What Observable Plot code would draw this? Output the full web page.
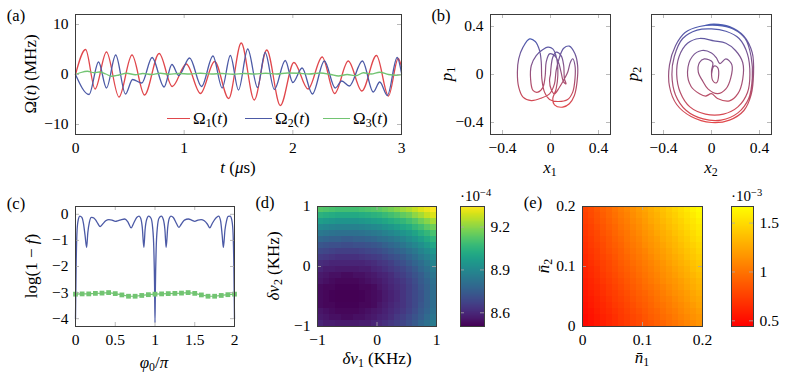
<!DOCTYPE html>
<html><head><meta charset="utf-8">
<script src="https://cdn.jsdelivr.net/npm/d3@7"></script>
<script src="https://cdn.jsdelivr.net/npm/@observablehq/plot@0.6"></script>
<style>
body{margin:0;background:#fff;}
#fig{position:relative;width:789px;height:375px;overflow:hidden;font-family:'Liberation Serif','Times New Roman',serif;color:#000;background:#fff;}
#fig svg{position:absolute;}
.lbl{position:absolute;white-space:nowrap;font-size:17px;line-height:1;transform:translate(-50%,-50%);}
.rot{transform:translate(-50%,-50%) rotate(-90deg);}
.lft{transform:translate(0,-50%);}
.sm{font-size:15px;}
.pl{font-size:16.5px;}
sub{font-size:0.7em;vertical-align:-0.3em;line-height:0;}
sup{font-size:0.7em;vertical-align:0.45em;line-height:0;}
.leg{position:absolute;height:0;border-top:1.5px solid;}
</style></head>
<body><div id="fig"></div>
<script>
// ---------- (a) control amplitudes ----------
const tRed   = [0,0.093,0.18,0.285,0.40,0.52,0.635,0.77,0.89,1.02,1.15,1.28,1.41,1.525,1.645,1.76,1.885,2.01,2.14,2.27,2.385,2.51,2.635,2.77,2.88,2.97,3.0];
const omegaRed = [0,5.0,-2.9,4.5,-4.5,3.9,-4.1,4.2,-2.4,2.1,-3.8,2.6,-4.8,6.3,-5.1,4.9,-6.2,2.4,-2.9,3.5,-3.8,2.7,-3.3,3.8,-4.3,3.2,1.5];
const tBlue  = [0,0.125,0.212,0.285,0.37,0.46,0.525,0.61,0.705,0.815,0.887,0.95,1.05,1.16,1.265,1.35,1.425,1.50,1.585,1.675,1.745,1.83,1.93,2.0,2.085,2.18,2.29,2.39,2.45,2.52,2.64,2.74,2.80,2.87,2.96,3.0];
const omegaBlue = [0,-4.0,2.5,-2.7,3.9,-3.9,-1.0,-1.7,3.4,-2.5,2.0,-0.2,3.3,-2.4,3.7,-2.7,3.8,-3.1,5.1,-2.6,4.4,-3.0,2.8,-1.6,1.3,-3.9,2.7,-2.7,-1.3,-2.3,2.7,-3.5,-1.5,-4.2,3.4,0.3];
const tGreen = [0,0.05,0.11,0.17,0.22,0.28,0.33,0.4,0.47,0.55,0.62,0.7,0.78,0.86,0.95,1.05,1.15,1.25,1.35,1.45,1.55,1.65,1.75,1.85,1.95,2.05,2.15,2.25,2.35,2.42,2.5,2.58,2.65,2.72,2.8,2.88,2.95,3.0];
const omegaGreen = [0,0.4,0.65,0.35,0.5,0.1,-0.35,-0.1,0.25,-0.05,0.2,0.0,0.25,0.05,0.2,0.1,0.25,0.1,0.2,0.05,0.2,0.1,0.25,0.1,0.3,0.25,0.1,0.3,0.0,-0.3,0.0,-0.25,0.35,0.1,0.45,0.0,-0.15,0.0];
const aXTicks = [0,1,2,3], aYTicks = [-10,0,10];

// ---------- (b) phase-space trajectories ----------
const x1Traj = [0.00,0.006,0.019,0.047,0.088,0.110,0.116,0.130,0.110,0.088,0.066,0.033,-0.008,-0.036,-0.044,-0.063,-0.105,-0.146,-0.166,-0.160,-0.119,-0.063,-0.022,0.019,0.052,0.061,0.047,0.019,0.033,0.102,0.157,0.199,0.221,0.226,0.204,0.157,0.110,0.075,0.047,0.033,-0.008,-0.077,-0.160,-0.229,-0.265,-0.276,-0.265,-0.229,-0.174,-0.127,-0.091,-0.077,-0.072,-0.050,-0.008,0.061,0.143,0.185,0.204,0.204,0.185,0.166,0.143,0.116,0.075,0.033,0.006,-0.008,0.00];
const p1Traj = [0.00,0.075,0.144,0.186,0.158,0.075,-0.036,-0.078,-0.064,0.019,0.103,0.158,0.172,0.103,-0.008,-0.106,-0.147,-0.133,-0.036,0.075,0.158,0.208,0.228,0.214,0.131,-0.008,-0.119,-0.203,-0.253,-0.272,-0.244,-0.175,-0.064,0.075,0.172,0.236,0.219,0.144,0.033,-0.078,-0.161,-0.197,-0.217,-0.189,-0.106,0.019,0.131,0.228,0.297,0.275,0.2,0.103,-0.036,-0.147,-0.208,-0.225,-0.208,-0.147,-0.036,0.075,0.131,0.103,0.019,-0.036,-0.106,-0.161,-0.125,-0.05,0.00];
const x2Traj = [0.00,0.02,0.05,0.06,0.04,0.01,0.0,0.01,-0.06,-0.1,-0.11,-0.07,-0.03,0.05,0.12,0.16,0.17,0.12,0.07,0.04,0.0,-0.08,-0.16,-0.2,-0.17,-0.1,-0.05,0.0,0.05,0.15,0.22,0.26,0.26,0.2,0.12,0.02,-0.1,-0.2,-0.27,-0.29,-0.26,-0.18,-0.05,0.1,0.22,0.3,0.32,0.3,0.23,0.12,0.0,-0.12,-0.24,-0.31,-0.33,-0.3,-0.21,-0.07,0.08,0.22,0.31,0.34,0.33,0.28,0.18,0.05,-0.1,-0.22,-0.3,-0.35,-0.35,-0.29,-0.17,0.0,0.15,0.27,0.33,0.35,0.34,0.27,0.15,0.02,-0.05];
const p2Traj = [0.00,0.07,0.06,0.0,-0.07,-0.05,0.03,0.1,0.13,0.1,0.02,-0.06,-0.12,-0.16,-0.12,-0.03,0.08,0.13,0.09,0.14,0.18,0.2,0.15,0.02,-0.1,-0.16,-0.18,-0.16,-0.2,-0.22,-0.16,-0.04,0.1,0.2,0.26,0.28,0.3,0.26,0.15,0.0,-0.15,-0.27,-0.33,-0.33,-0.27,-0.15,0.0,0.17,0.3,0.36,0.38,0.37,0.3,0.15,0.0,-0.17,-0.3,-0.37,-0.38,-0.32,-0.2,-0.03,0.15,0.3,0.38,0.41,0.4,0.35,0.24,0.08,-0.1,-0.25,-0.35,-0.4,-0.38,-0.3,-0.17,0.0,0.18,0.32,0.4,0.42,0.41];
const bTicks = [-0.4,0,0.4];

// ---------- (c) infidelity vs phase ----------
const phiBlue = [0,0.008,0.02,0.035,0.055,0.08,0.10,0.12,0.14,0.155,0.175,0.2,0.22,0.25,0.28,0.31,0.34,0.38,0.42,0.46,0.5,0.54,0.58,0.62,0.66,0.70,0.73,0.77,0.80,0.82,0.84,0.86,0.875,0.895,0.92,0.95,0.97,0.985,0.995,1.0,1.005,1.015,1.03,1.05,1.08,1.105,1.125,1.14,1.16,1.18,1.2,1.23,1.27,1.30,1.33,1.37,1.42,1.46,1.5,1.54,1.58,1.62,1.66,1.69,1.72,1.75,1.78,1.80,1.825,1.845,1.86,1.88,1.9,1.92,1.945,1.965,1.98,1.992,2.0];
const logBlue = [-4.0,-2.0,-0.6,-0.2,-0.07,-0.12,-0.35,-0.8,-1.27,-0.7,-0.3,-0.12,-0.13,-0.2,-0.35,-0.47,-0.38,-0.25,-0.2,-0.22,-0.27,-0.24,-0.2,-0.18,-0.3,-0.52,-0.35,-0.12,-0.07,-0.15,-0.5,-1.27,-0.6,-0.2,-0.07,-0.15,-0.5,-1.3,-2.8,-4.15,-2.8,-1.3,-0.5,-0.15,-0.07,-0.2,-0.6,-1.27,-0.5,-0.15,-0.07,-0.12,-0.35,-0.5,-0.38,-0.22,-0.18,-0.22,-0.27,-0.22,-0.2,-0.25,-0.38,-0.52,-0.35,-0.2,-0.1,-0.07,-0.25,-0.8,-1.27,-0.6,-0.25,-0.08,-0.07,-0.2,-0.6,-2.0,-4.0];
const phiGreen = [0,0.0833,0.1667,0.25,0.3333,0.4167,0.5,0.5833,0.6667,0.75,0.8333,0.9167,1.0,1.0833,1.1667,1.25,1.3333,1.4167,1.5,1.5833,1.6667,1.75,1.8333,1.9167,2.0];
const logGreen = [-3.06,-3.05,-3.05,-3.03,-3.02,-3.0,-3.04,-3.09,-3.14,-3.14,-3.11,-3.08,-3.06,-3.05,-3.04,-3.03,-3.02,-3.0,-3.03,-3.09,-3.14,-3.14,-3.11,-3.08,-3.06];
const cXTicks = [0,0.5,1,1.5,2], cYTicks = [0,-1,-2,-3,-4];

// ---------- (d) detuning map (x 1e-4) ----------
const nu1 = [-0.95,-0.85,-0.75,-0.65,-0.55,-0.45,-0.35,-0.25,-0.15,-0.05,0.05,0.15,0.25,0.35,0.45,0.55,0.65,0.75,0.85,0.95];
const nu2 = [0.95,0.85,0.75,0.65,0.55,0.45,0.35,0.25,0.15,0.05,-0.05,-0.15,-0.25,-0.35,-0.45,-0.55,-0.65,-0.75,-0.85,-0.95];
const dVals = [
[9.12,9.11,9.10,9.09,9.09,9.09,9.09,9.10,9.11,9.12,9.13,9.15,9.17,9.19,9.22,9.24,9.27,9.30,9.32,9.34],
[9.04,9.03,9.02,9.01,9.01,9.01,9.01,9.02,9.03,9.04,9.05,9.07,9.09,9.11,9.14,9.16,9.20,9.23,9.27,9.30],
[8.97,8.96,8.95,8.94,8.94,8.94,8.94,8.95,8.96,8.97,8.98,9.00,9.02,9.04,9.06,9.09,9.12,9.16,9.19,9.23],
[8.90,8.89,8.88,8.87,8.87,8.87,8.87,8.88,8.89,8.90,8.91,8.93,8.95,8.97,9.00,9.02,9.06,9.09,9.13,9.16],
[8.84,8.83,8.82,8.81,8.81,8.81,8.81,8.82,8.83,8.84,8.85,8.87,8.89,8.91,8.94,8.96,8.99,9.03,9.06,9.10],
[8.78,8.77,8.76,8.76,8.75,8.75,8.76,8.76,8.77,8.78,8.80,8.81,8.83,8.85,8.88,8.91,8.94,8.97,9.01,9.05],
[8.73,8.72,8.71,8.71,8.70,8.70,8.71,8.71,8.72,8.73,8.74,8.76,8.78,8.80,8.83,8.86,8.89,8.92,8.96,9.00],
[8.69,8.68,8.67,8.66,8.66,8.66,8.66,8.67,8.68,8.69,8.70,8.72,8.74,8.76,8.78,8.81,8.84,8.88,8.91,8.95],
[8.65,8.64,8.63,8.62,8.62,8.62,8.62,8.63,8.64,8.65,8.66,8.68,8.70,8.72,8.74,8.77,8.80,8.84,8.87,8.91],
[8.61,8.60,8.59,8.59,8.59,8.59,8.59,8.59,8.60,8.61,8.63,8.64,8.66,8.69,8.71,8.74,8.77,8.80,8.84,8.88],
[8.59,8.57,8.57,8.56,8.56,8.56,8.56,8.57,8.57,8.59,8.60,8.62,8.64,8.66,8.68,8.71,8.74,8.78,8.81,8.85],
[8.56,8.55,8.54,8.54,8.53,8.53,8.54,8.54,8.55,8.56,8.58,8.59,8.61,8.64,8.66,8.69,8.72,8.75,8.79,8.83],
[8.55,8.54,8.53,8.52,8.52,8.52,8.52,8.53,8.54,8.55,8.56,8.58,8.60,8.62,8.64,8.67,8.70,8.74,8.77,8.81],
[8.53,8.52,8.52,8.51,8.51,8.51,8.51,8.52,8.52,8.53,8.55,8.57,8.59,8.61,8.63,8.66,8.69,8.73,8.76,8.80],
[8.53,8.52,8.51,8.50,8.50,8.50,8.50,8.51,8.52,8.53,8.54,8.56,8.58,8.60,8.63,8.66,8.69,8.72,8.76,8.80],
[8.53,8.52,8.51,8.50,8.50,8.50,8.50,8.51,8.52,8.53,8.54,8.56,8.58,8.60,8.63,8.66,8.69,8.72,8.76,8.80],
[8.53,8.52,8.52,8.51,8.51,8.51,8.51,8.52,8.52,8.53,8.55,8.57,8.59,8.61,8.63,8.66,8.69,8.73,8.76,8.80],
[8.55,8.54,8.53,8.52,8.52,8.52,8.52,8.53,8.54,8.55,8.56,8.58,8.60,8.62,8.64,8.67,8.70,8.74,8.77,8.81],
[8.56,8.55,8.54,8.54,8.53,8.53,8.54,8.54,8.55,8.56,8.58,8.59,8.61,8.64,8.66,8.69,8.72,8.75,8.79,8.83],
[8.59,8.57,8.57,8.56,8.56,8.56,8.56,8.57,8.57,8.59,8.60,8.62,8.64,8.66,8.68,8.71,8.74,8.78,8.81,8.85]];
const dTicks = [-1,0,1], dBarTicks = [8.6,8.9,9.2], dBarDomain = [8.504,9.344];

// ---------- (e) thermal occupation map (x 1e-3) ----------
const nbar1 = [0.005,0.015,0.025,0.035,0.045,0.055,0.065,0.075,0.085,0.095,0.105,0.115,0.125,0.135,0.145,0.155,0.165,0.175,0.185,0.195];
const nbar2 = [0.195,0.185,0.175,0.165,0.155,0.145,0.135,0.125,0.115,0.105,0.095,0.085,0.075,0.065,0.055,0.045,0.035,0.025,0.015,0.005];
const eVals = [
[.77,.81,.86,.91,.95,1.00,1.05,1.09,1.14,1.19,1.23,1.28,1.33,1.37,1.42,1.47,1.51,1.56,1.61,1.65],
[.75,.80,.84,.89,.94,.98,1.03,1.07,1.12,1.17,1.21,1.26,1.30,1.35,1.40,1.44,1.49,1.53,1.58,1.63],
[.74,.78,.83,.87,.92,.96,1.01,1.05,1.10,1.14,1.19,1.24,1.28,1.33,1.37,1.42,1.46,1.51,1.55,1.60],
[.72,.76,.81,.85,.90,.94,.99,1.03,1.08,1.12,1.17,1.21,1.26,1.30,1.35,1.39,1.44,1.48,1.53,1.57],
[.70,.75,.79,.84,.88,.93,.97,1.01,1.06,1.10,1.15,1.19,1.24,1.28,1.32,1.37,1.41,1.46,1.50,1.55],
[.69,.73,.78,.82,.86,.91,.95,1.00,1.04,1.08,1.13,1.17,1.21,1.26,1.30,1.34,1.39,1.43,1.48,1.52],
[.67,.72,.76,.80,.85,.89,.93,.98,1.02,1.06,1.11,1.15,1.19,1.23,1.28,1.32,1.36,1.41,1.45,1.49],
[.66,.70,.74,.79,.83,.87,.91,.96,1.00,1.04,1.08,1.13,1.17,1.21,1.25,1.30,1.34,1.38,1.42,1.47],
[.64,.69,.73,.77,.81,.85,.90,.94,.98,1.02,1.06,1.10,1.15,1.19,1.23,1.27,1.31,1.36,1.40,1.44],
[.63,.67,.71,.75,.79,.83,.88,.92,.96,1.00,1.04,1.08,1.12,1.16,1.21,1.25,1.29,1.33,1.37,1.41],
[.61,.65,.69,.74,.78,.82,.86,.90,.94,.98,1.02,1.06,1.10,1.14,1.18,1.22,1.26,1.30,1.35,1.39],
[.60,.64,.68,.72,.76,.80,.84,.88,.92,.96,1.00,1.04,1.08,1.12,1.16,1.20,1.24,1.28,1.32,1.36],
[.58,.62,.66,.70,.74,.78,.82,.86,.90,.94,.98,1.02,1.06,1.10,1.14,1.17,1.21,1.25,1.29,1.33],
[.57,.61,.64,.68,.72,.76,.80,.84,.88,.92,.96,.99,1.03,1.07,1.11,1.15,1.19,1.23,1.27,1.31],
[.55,.59,.63,.67,.71,.74,.78,.82,.86,.90,.93,.97,1.01,1.05,1.09,1.13,1.16,1.20,1.24,1.28],
[.54,.57,.61,.65,.69,.73,.76,.80,.84,.88,.91,.95,.99,1.03,1.06,1.10,1.14,1.18,1.22,1.25],
[.52,.56,.60,.63,.67,.71,.74,.78,.82,.86,.89,.93,.97,1.00,1.04,1.08,1.11,1.15,1.19,1.23],
[.51,.54,.58,.62,.65,.69,.72,.76,.80,.83,.87,.91,.94,.98,1.02,1.05,1.09,1.13,1.16,1.20],
[.49,.53,.56,.60,.63,.67,.71,.74,.78,.81,.85,.89,.92,.96,.99,1.03,1.07,1.10,1.14,1.17],
[.48,.51,.55,.58,.62,.65,.69,.72,.76,.79,.83,.86,.90,.93,.97,1.00,1.04,1.08,1.11,1.15]];
const eTicks = [0,0.1,0.2], eBarTicks = [0.5,1,1.5], eBarDomain = [0.442,1.67];

// ---------- styling ----------
const RED = "#e0474c", BLUE = "#4c5aa6", GREEN = "#72c472";
const FONT = "'Liberation Serif','Times New Roman',serif";
const fig = document.getElementById("fig");
const fmt = d => (d < 0 ? "\u2212" : "") + String(Math.abs(d));

function innerTicks(xt, yt, xd, yd, w, h, len = 4) {
  const dx = (xd[1] - xd[0]) / w * len, dy = (yd[1] - yd[0]) / h * len;
  const st = {stroke: "#a8a8a8", strokeWidth: 0.8};
  const m = [];
  if (xt && xt.length) {
    m.push(Plot.ruleX(xt, {y1: yd[0], y2: yd[0] + dy, ...st}));
    m.push(Plot.ruleX(xt, {y1: yd[1], y2: yd[1] - dy, ...st}));
  }
  if (yt && yt.length) {
    m.push(Plot.ruleY(yt, {x1: xd[0], x2: xd[0] + dx, ...st}));
    m.push(Plot.ruleY(yt, {x1: xd[1], x2: xd[1] - dx, ...st}));
  }
  return m;
}

function panel(o) {
  const {fx, fy, w, h, ml = 50, mr = 10, mt = 6, mb = 26, xd, yd, xt, yt, marks,
         xAxis = "bottom", yAxis = "left", color, xPad = 7, yPad = 7} = o;
  const svg = Plot.plot({
    width: w + ml + mr, height: h + mt + mb,
    marginLeft: ml, marginRight: mr, marginTop: mt, marginBottom: mb,
    style: {fontFamily: FONT, fontSize: "15.5px", background: "transparent", overflow: "visible", color: "#000"},
    x: {domain: xd, ticks: xt, tickFormat: fmt, tickSize: 0, tickPadding: xPad, label: null, axis: xAxis},
    y: {domain: yd, ticks: yt, tickFormat: fmt, tickSize: 0, tickPadding: yPad, label: null, axis: yAxis},
    color,
    marks: [...marks, ...innerTicks(xt, yt, xd, yd, w, h), Plot.frame({stroke: "#3c3c3c", strokeWidth: 1})]
  });
  svg.style.left = (fx - ml) + "px";
  svg.style.top = (fy - mt) + "px";
  fig.appendChild(svg);
  return svg;
}

function addGrad(svg, id) {
  const ns = "http://www.w3.org/2000/svg";
  const defs = document.createElementNS(ns, "defs");
  const g = document.createElementNS(ns, "linearGradient");
  g.setAttribute("id", id); g.setAttribute("x1", "0"); g.setAttribute("y1", "0"); g.setAttribute("x2", "0"); g.setAttribute("y2", "1");
  [["0%", "#4a5cb2"], ["100%", "#e2484a"]].forEach(([off, c]) => {
    const s = document.createElementNS(ns, "stop"); s.setAttribute("offset", off); s.setAttribute("stop-color", c); g.appendChild(s);
  });
  defs.appendChild(g);
  svg.insertBefore(defs, svg.firstChild);
}

const zip = (a, b) => a.map((d, i) => ({x: d, y: b[i]}));

// (a)
panel({fx: 75, fy: 14, w: 326, h: 120, xd: [0, 3], yd: [-12, 12], xt: aXTicks, yt: aYTicks,
  marks: [
    Plot.line(zip(tRed, omegaRed), {x: "x", y: "y", stroke: RED, strokeWidth: 1.3, curve: "monotone-x"}),
    Plot.line(zip(tBlue, omegaBlue), {x: "x", y: "y", stroke: BLUE, strokeWidth: 1.3, curve: "monotone-x"}),
    Plot.line(zip(tGreen, omegaGreen), {x: "x", y: "y", stroke: GREEN, strokeWidth: 1.3, curve: "monotone-x"})
  ]});

// (b) left & right
const sb1 = panel({fx: 490, fy: 14, w: 120, h: 120, ml: 48, mr: 6, xd: [-0.5, 0.5], yd: [-0.5, 0.5], xt: bTicks, yt: bTicks,
  marks: [Plot.line(zip(x1Traj, p1Traj), {x: "x", y: "y", stroke: "url(#gradB1)", strokeWidth: 1.2, curve: "catmull-rom"})]});
addGrad(sb1, "gradB1");
const sb2 = panel({fx: 651, fy: 14, w: 120, h: 120, ml: 6, mr: 6, xd: [-0.5, 0.5], yd: [-0.5, 0.5], xt: bTicks, yt: bTicks, yAxis: null,
  marks: [Plot.line(zip(x2Traj, p2Traj), {x: "x", y: "y", stroke: "url(#gradB2)", strokeWidth: 1.2, curve: "catmull-rom"})]});
addGrad(sb2, "gradB2");

// (c)
panel({fx: 75, fy: 206, w: 159, h: 120, xd: [0, 2], yd: [-4.3, 0.3], xt: cXTicks, yt: cYTicks,
  marks: [
    Plot.line(zip(phiBlue, logBlue), {x: "x", y: "y", stroke: BLUE, strokeWidth: 1.3, curve: "monotone-x"}),
    Plot.line(zip(phiGreen, logGreen), {x: "x", y: "y", stroke: GREEN, strokeWidth: 1.2}),
    Plot.dot(zip(phiGreen, logGreen), {x: "x", y: "y", symbol: "square", r: 2.7, fill: GREEN, stroke: "none"})
  ]});

// (d)
const cellsD = [];
nu2.forEach((y, i) => nu1.forEach((x, j) => cellsD.push({x, y, v: dVals[i][j]})));
const dColor = {type: "linear", scheme: "viridis", domain: dBarDomain, clamp: true};
panel({fx: 317, fy: 206, w: 119, h: 120, ml: 40, xd: [-1, 1], yd: [-1, 1], xt: dTicks, yt: dTicks, color: dColor,
  marks: [Plot.rect(cellsD, {x1: d => d.x - 0.05, x2: d => d.x + 0.05, y1: d => d.y - 0.05, y2: d => d.y + 0.05, fill: "v", shapeRendering: "crispEdges"})]});
const barD = d3.range(120).map(i => {
  const a = dBarDomain[0] + (dBarDomain[1] - dBarDomain[0]) * i / 120, b = dBarDomain[0] + (dBarDomain[1] - dBarDomain[0]) * (i + 1) / 120;
  return {a, b, v: (a + b) / 2};
});
panel({fx: 460, fy: 206, w: 24, h: 120, ml: 4, mr: 36, xd: [0, 1], yd: dBarDomain, xt: [], yt: dBarTicks, xAxis: null, yAxis: "right", yPad: 6, color: dColor,
  marks: [Plot.rect(barD, {x1: 0, x2: 1, y1: "a", y2: "b", fill: "v", shapeRendering: "crispEdges"})]});

// (e)
const cellsE = [];
nbar2.forEach((y, i) => nbar1.forEach((x, j) => cellsE.push({x, y, v: eVals[i][j]})));
const eColor = {type: "linear", domain: eBarDomain, range: ["#ff0000", "#ffff00"], clamp: true};
panel({fx: 582, fy: 206, w: 120, h: 120, ml: 40, xd: [0, 0.2], yd: [0, 0.2], xt: eTicks, yt: eTicks, color: eColor,
  marks: [Plot.rect(cellsE, {x1: d => d.x - 0.005, x2: d => d.x + 0.005, y1: d => d.y - 0.005, y2: d => d.y + 0.005, fill: "v", shapeRendering: "crispEdges"})]});
const barE = d3.range(120).map(i => {
  const a = eBarDomain[0] + (eBarDomain[1] - eBarDomain[0]) * i / 120, b = eBarDomain[0] + (eBarDomain[1] - eBarDomain[0]) * (i + 1) / 120;
  return {a, b, v: (a + b) / 2};
});
panel({fx: 731, fy: 206, w: 22, h: 120, ml: 4, mr: 34, xd: [0, 1], yd: eBarDomain, xt: [], yt: eBarTicks, xAxis: null, yAxis: "right", yPad: 6, color: eColor,
  marks: [Plot.rect(barE, {x1: 0, x2: 1, y1: "a", y2: "b", fill: "v", shapeRendering: "crispEdges"})]});

// ---------- text labels ----------
const labels = [
  ["(a)", 16, 16, "pl"], ["(b)", 441, 16, "pl"], ["(c)", 16, 204, "pl"], ["(d)", 265, 203, "pl"], ["(e)", 533, 203, "pl"],
  ["\u03a9(<i>t</i>) (MHz)", 30, 74, "rot"], ["<i>t</i> (<i>\u03bc</i>s)", 238, 167, ""],
  ["<i>p</i><sub>1</sub>", 446, 74, "rot"], ["<i>p</i><sub>2</sub>", 632, 74, "rot"],
  ["<i>x</i><sub>1</sub>", 550, 167, ""], ["<i>x</i><sub>2</sub>", 711, 167, ""],
  ["log(1 \u2212 <i>f</i>)", 31, 266, "rot"], ["<i>\u03c6</i><sub>0</sub>/<i>\u03c0</i>", 154, 362, ""],
  ["<i>\u03b4\u03bd</i><sub>2</sub> (KHz)", 273, 266, "rot"], ["<i>\u03b4\u03bd</i><sub>1</sub> (KHz)", 377, 358, ""],
  ["<i>n\u0304</i><sub>2</sub>", 543, 266, "rot"], ["<i>n\u0304</i><sub>1</sub>", 642, 357, ""],
  ["\u00b710<sup>\u22124</sup>", 460, 196, "lft sm"], ["\u00b710<sup>\u22123</sup>", 731, 196, "lft sm"],
  ["\u03a9<sub>1</sub>(<i>t</i>)", 193, 118, "lft"], ["\u03a9<sub>2</sub>(<i>t</i>)", 275, 118, "lft"], ["\u03a9<sub>3</sub>(<i>t</i>)", 353, 118, "lft"]
];
labels.forEach(([html, x, y, cls]) => {
  const d = document.createElement("div");
  d.className = "lbl " + cls; d.innerHTML = html;
  d.style.left = x + "px"; d.style.top = y + "px";
  fig.appendChild(d);
});
[[167, 190, RED], [245, 272, BLUE], [323, 350, GREEN]].forEach(([x1, x2, c]) => {
  const d = document.createElement("div");
  d.className = "leg"; d.style.left = x1 + "px"; d.style.width = (x2 - x1) + "px"; d.style.top = "117.5px"; d.style.borderTopColor = c;
  fig.appendChild(d);
});
</script></body></html>
